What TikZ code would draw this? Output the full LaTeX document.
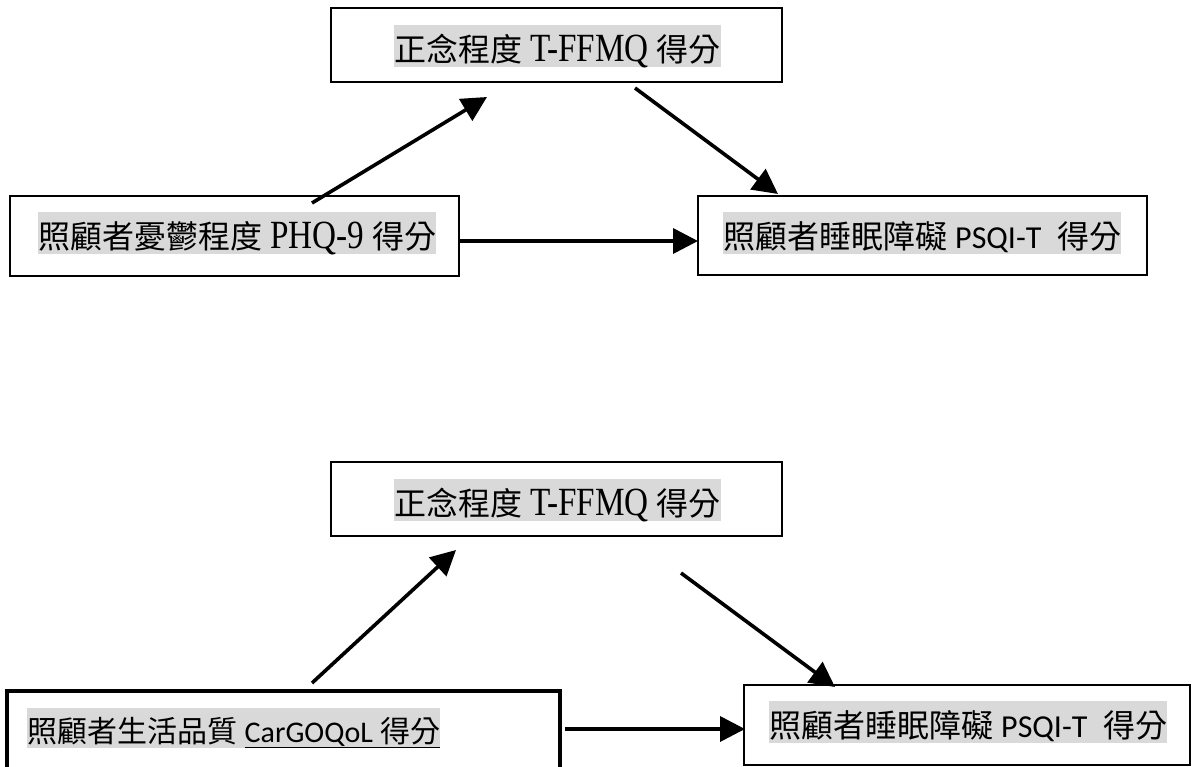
\documentclass[tikz,border=0pt]{standalone}
\usepackage{fontspec}
\setmainfont{Liberation Serif}
\newfontfamily\cjk{Noto Sans CJK TC}
\newfontfamily\calib{Carlito}
\newfontfamily\tallrm[FakeStretch=0.83]{Liberation Serif}
\newcommand{\lat}[1]{{\tallrm\fontsize{40}{44}\selectfont #1}}
\usetikzlibrary{arrows.meta}
\definecolor{hl}{RGB}{217,217,217}
\tikzset{
  frame/.style={draw=black, line width=2.6pt, inner sep=0pt},
  label/.style={fill=hl, inner xsep=0pt, inner ysep=0pt, text height=36pt, text depth=6pt, anchor=base west, font=\fontsize{32}{36}\selectfont},
  link/.style={line width=3.6pt, -{Triangle[length=25pt,width=25pt]}}
}
\begin{document}
\begin{tikzpicture}[x=1pt,y=-1pt]
\useasboundingbox (0,0) rectangle (1193,766);
\clip (0,0) rectangle (1193,766);

% ---- upper model: depression -> mindfulness -> sleep ----
\node[frame, minimum width=451pt, minimum height=74pt] (T1) at (556.5,45) {};
\node[frame, minimum width=449pt, minimum height=80pt] (L1) at (234.5,236) {};
\node[frame, minimum width=449pt, minimum height=79pt] (R1) at (922.5,235.5) {};

\node[label] (T1t) at (394,61) {{\cjk 正念程度} \lat{T-FFMQ} {\cjk 得分}};
\node[label] (L1t) at (38,248) {{\cjk 照顧者憂鬱程度} \lat{PHQ-9} {\cjk 得分}};
\node[label] (R1t) at (723,248) {{\cjk 照顧者睡眠障礙} {\calib PSQI-T}\ \ {\cjk 得分}};

\coordinate (a1s) at (312,203);
\coordinate (a1e) at (487,97);
\coordinate (a2s) at (635,88);
\coordinate (a2e) at (778,194);
\coordinate (a3s) at (460,241);
\coordinate (a3e) at (698,241);
\draw[link] (a1s) -- (a1e);
\draw[link] (a2s) -- (a2e);
\draw[link] (a3s) -- (a3e);

% ---- lower model: quality of life -> mindfulness -> sleep ----
\node[frame, minimum width=451pt, minimum height=74pt] (T2) at (556.5,499) {};
\node[frame, line width=4pt, minimum width=553pt, minimum height=110pt] (L2) at (283.5,746) {};
\node[frame, minimum width=446pt, minimum height=80pt] (R2) at (967,725) {};

\node[label] (T2t) at (394,515) {{\cjk 正念程度} \lat{T-FFMQ} {\cjk 得分}};
\node[label, font=\fontsize{30}{34}\selectfont, text height=34pt] (L2t) at (27,742) {{\cjk 照顧者生活品質} \underline{{\calib CarGOQoL} {\cjk 得分}}};
\node[label] (R2t) at (769,737) {{\cjk 照顧者睡眠障礙} {\calib PSQI-T}\ \ {\cjk 得分}};

\coordinate (b1s) at (312,683);
\coordinate (b1e) at (456,550);
\coordinate (b2s) at (681,573);
\coordinate (b2e) at (835,687);
\coordinate (b3s) at (565,729);
\coordinate (b3e) at (745,729);
\draw[link] (b1s) -- (b1e);
\draw[link] (b2s) -- (b2e);
\draw[link] (b3s) -- (b3e);
\end{tikzpicture}
\end{document}
